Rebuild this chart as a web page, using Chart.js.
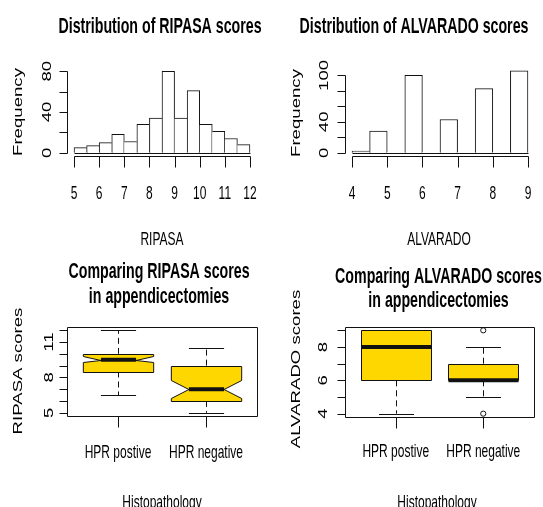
<!DOCTYPE html>
<html>
<head>
<meta charset="utf-8">
<script src="https://cdn.jsdelivr.net/npm/chart.js@4.4.1/dist/chart.umd.min.js"></script>
<style>
  html, body { margin: 0; background: #fff; }
  #wrap { position: relative; width: 543px; height: 507px; overflow: hidden; }
  canvas { position: absolute; left: 0; top: 0; }
</style>
</head>
<body>
<div id="wrap">
  <canvas id="ripasaHist" width="543" height="507"></canvas>
  <canvas id="alvaradoHist" width="543" height="507"></canvas>
  <canvas id="ripasaBox" width="543" height="507"></canvas>
  <canvas id="alvaradoBox" width="543" height="507"></canvas>
</div>
<script>
// --- histogram data ---
const ripasaBreaks = [5, 5.5, 6, 6.5, 7, 7.5, 8, 8.5, 9, 9.5, 10, 10.5, 11, 11.5, 12];
const ripasaFreq = [5, 7, 10, 18, 11, 28, 34, 80, 34, 61, 28, 21, 14, 8];
const ripasaXTicks = [5, 6, 7, 8, 9, 10, 11, 12];
const ripasaYTicks = [0, 20, 40, 60, 80];
const ripasaYLabels = [0, 40, 80];

const alvaradoBreaks = [4, 4.5, 5, 5.5, 6, 6.5, 7, 7.5, 8, 8.5, 9];
const alvaradoFreq = [2, 28, 0, 100, 0, 43, 0, 83, 0, 106];
const alvaradoXTicks = [4, 5, 6, 7, 8, 9];
const alvaradoYTicks = [0, 20, 40, 60, 80, 100];
const alvaradoYLabels = [0, 40, 100];

// --- boxplot data: [lower whisker, Q1, median, Q3, upper whisker] ---
const groups = ['HPR postive', 'HPR negative'];
const ripasaStats = [[6.5, 8.5, 9.5, 10, 12], [5, 6, 7, 9, 10.5]];
const ripasaNotch = [[9.3, 9.8], [6.25, 7.75]];
const ripasaBoxYTicks = [5, 6, 7, 8, 9, 10, 11, 12];
const ripasaBoxYLabels = [5, 8, 11];

const alvaradoStats = [[4, 6, 8, 9, 9], [5, 6, 6, 7, 8]];
const alvaradoOutliers = [[], [9, 4]];
const alvaradoBoxYTicks = [4, 5, 6, 7, 8, 9];
const alvaradoBoxYLabels = [4, 6, 8];

// the picture is stretched vertically, so text is too
const STRETCH = 1.55;
const FONT = '"Liberation Sans", Arial, sans-serif';
const INK = '#111';

function txt(ctx, s, x, y, size, opts = {}) {
    ctx.save();
    ctx.translate(x, y);
    ctx.scale(1, STRETCH);
    if (opts.rotate) ctx.rotate(-Math.PI / 2);
    ctx.font = (opts.bold ? 'bold ' : '') + size + 'px ' + FONT;
    ctx.fillStyle = '#000';
    ctx.textAlign = 'center';
    ctx.textBaseline = 'alphabetic';
    ctx.fillText(s, 0, 0);
    ctx.restore();
}

const crisp = v => Math.round(v) + 0.5;

// R style axes, titles and labels
function rAxes(cfg) {
    return {
        id: 'rAxes',
        afterDraw(chart) {
            const { ctx, chartArea: a, scales: { x, y } } = chart;
            const px = v => crisp(x.getPixelForValue(v));
            const py = v => crisp(y.getPixelForValue(v));
            const bottom = crisp(a.bottom), left = crisp(a.left);
            ctx.save();
            ctx.strokeStyle = INK;
            ctx.lineWidth = 1;
            ctx.beginPath();
            if (cfg.frame) {
                ctx.rect(left, crisp(a.top), crisp(a.right) - left, bottom - crisp(a.top));
            } else {
                ctx.moveTo(px(cfg.xTicks[0]), bottom);
                ctx.lineTo(px(cfg.xTicks[cfg.xTicks.length - 1]), bottom);
                ctx.moveTo(left, py(cfg.yTicks[0]));
                ctx.lineTo(left, py(cfg.yTicks[cfg.yTicks.length - 1]));
            }
            if (cfg.breaks) {
                // bottom edge of the histogram cells, empty ones included
                ctx.moveTo(px(cfg.breaks[0]), py(0));
                ctx.lineTo(px(cfg.breaks[cfg.breaks.length - 1]), py(0));
            }
            cfg.xTicks.forEach(v => { ctx.moveTo(px(v), bottom); ctx.lineTo(px(v), bottom + 11); });
            cfg.yTicks.forEach(v => { ctx.moveTo(left, py(v)); ctx.lineTo(left - 8, py(v)); });
            ctx.stroke();
            ctx.restore();

            cfg.xTicks.forEach((v, i) =>
                txt(ctx, cfg.xLabels ? cfg.xLabels[i] : String(v), x.getPixelForValue(v), cfg.xLabelY, 12));
            cfg.yLabels.forEach(v =>
                txt(ctx, String(v), a.left - cfg.yLabelGap, y.getPixelForValue(v), 12, { rotate: true }));
            cfg.title.forEach((t, i) => txt(ctx, t, cfg.titleX, cfg.titleY[i], 14.2, { bold: true }));
            txt(ctx, cfg.xTitle, cfg.xTitleX, cfg.xTitleY, 12);
            txt(ctx, cfg.yTitle, a.left - 45.5, cfg.yTitleY, 12, { rotate: true });
        }
    };
}

// boxes, whiskers and medians (R bxp look)
function rBoxes(stats, notch) {
    return {
        id: 'rBoxes',
        beforeDatasetsDraw(chart) {
            const { ctx, scales: { x, y } } = chart;
            const Y = v => y.getPixelForValue(v);
            const seg = (x1, y1, x2, y2) => { ctx.beginPath(); ctx.moveTo(x1, y1); ctx.lineTo(x2, y2); ctx.stroke(); };
            stats.forEach((s, i) => {
                const [lo, q1, med, q3, hi] = s;
                const cx = crisp(x.getPixelForValue(i + 1));
                const hw = x.getPixelForValue(i + 1.4) - x.getPixelForValue(i + 1);
                ctx.save();
                ctx.strokeStyle = INK;
                ctx.lineWidth = 1;
                ctx.setLineDash([6, 4]);
                seg(cx, Y(q3), cx, Y(hi));
                seg(cx, Y(q1), cx, Y(lo));
                ctx.setLineDash([]);
                seg(cx - hw / 2, crisp(Y(hi)), cx + hw / 2, crisp(Y(hi)));
                seg(cx - hw / 2, crisp(Y(lo)), cx + hw / 2, crisp(Y(lo)));

                let pts = [[-1, q1], [1, q1], [1, q3], [-1, q3]];
                if (notch) {
                    const [nl, nh] = notch[i];
                    pts = [[-1, q1], [1, q1], [1, nl], [0.5, med], [1, nh], [1, q3],
                           [-1, q3], [-1, nh], [-0.5, med], [-1, nl]];
                }
                ctx.beginPath();
                pts.forEach(([f, v], k) => {
                    const X = cx + f * hw, YY = crisp(Y(v));
                    k ? ctx.lineTo(X, YY) : ctx.moveTo(X, YY);
                });
                ctx.closePath();
                ctx.fillStyle = '#FFD700';
                ctx.fill();
                ctx.stroke();

                const mw = notch ? hw / 2 : hw;
                ctx.lineWidth = 4;
                seg(cx - mw, Y(med), cx + mw, Y(med));
                ctx.restore();
            });
        }
    };
}

const baseOptions = (padding) => ({
    responsive: false,
    animation: false,
    events: [],
    layout: { padding },
    plugins: { legend: { display: false }, tooltip: { enabled: false } }
});

function histogram(id, breaks, freq, xr, yr, padding, axesCfg) {
    const mids = freq.map((f, i) => ({ x: (breaks[i] + breaks[i + 1]) / 2, y: f }));
    const n = freq.length;
    const opts = baseOptions(padding);
    opts.scales = {
        x: { type: 'linear', min: xr[0], max: xr[1], display: false, offset: false,
             afterBuildTicks: s => { s.ticks = breaks.map(v => ({ value: v })); } },
        y: { min: yr[0], max: yr[1], display: false }
    };
    new Chart(document.getElementById(id), {
        type: 'bar',
        data: {
            datasets: [{
                data: mids,
                backgroundColor: '#fff',
                borderColor: INK,
                borderSkipped: false,
                borderWidth: c => {
                    const i = c.dataIndex;
                    return {
                        top: 1, bottom: 0,
                        left: (i === 0 || freq[i] >= freq[i - 1]) ? 1 : 0,
                        right: (i === n - 1 || freq[i] > freq[i + 1]) ? 1 : 0
                    };
                },
                barPercentage: 1,
                categoryPercentage: 1
            }]
        },
        options: opts,
        plugins: [rAxes(Object.assign({ breaks }, axesCfg))]
    });
}

function boxplot(id, stats, notch, outliers, yr, padding, axesCfg) {
    const opts = baseOptions(padding);
    opts.scales = {
        x: { type: 'linear', min: 0.42, max: 2.58, display: false },
        y: { min: yr[0], max: yr[1], display: false }
    };
    new Chart(document.getElementById(id), {
        type: 'scatter',
        data: {
            datasets: [{
                data: outliers.flatMap((o, i) => o.map(v => ({ x: i + 1, y: v }))),
                pointRadius: 2.6,
                pointBorderWidth: 1,
                pointBorderColor: INK,
                pointBackgroundColor: 'rgba(0,0,0,0)'
            }]
        },
        options: opts,
        plugins: [rBoxes(stats, notch), rAxes(axesCfg)]
    });
}

histogram('ripasaHist', ripasaBreaks, ripasaFreq, [4.72, 12.28], [-3.2, 83.2],
    { left: 67, right: 286, top: 68, bottom: 351 },
    { xTicks: ripasaXTicks, yTicks: ripasaYTicks, yLabels: ripasaYLabels,
      xLabelY: 199, yLabelGap: 16,
      title: ['Distribution of RIPASA scores'], titleX: 160, titleY: [32.5],
      xTitle: 'RIPASA', xTitleX: 162, xTitleY: 245,
      yTitle: 'Frequency', yTitleY: 112 });

histogram('alvaradoHist', alvaradoBreaks, alvaradoFreq, [3.8, 9.2], [-4.24, 110.24],
    { left: 345, right: 8, top: 67.5, bottom: 351 },
    { xTicks: alvaradoXTicks, yTicks: alvaradoYTicks, yLabels: alvaradoYLabels,
      xLabelY: 198.5, yLabelGap: 17,
      title: ['Distribution of ALVARADO scores'], titleX: 414, titleY: [32.5],
      xTitle: 'ALVARADO', xTitleX: 439, xTitleY: 245,
      yTitle: 'Frequency', yTitleY: 113 });

boxplot('ripasaBox', ripasaStats, ripasaNotch, [[], []], [4.72, 12.28],
    { left: 67, right: 286, top: 327, bottom: 91 },
    { frame: true, xTicks: [1, 2], xLabels: groups, yTicks: ripasaBoxYTicks, yLabels: ripasaBoxYLabels,
      xLabelY: 458, yLabelGap: 14,
      title: ['Comparing RIPASA scores', 'in appendicectomies'], titleX: 159, titleY: [278, 302.5],
      xTitle: 'Histopathology', xTitleX: 162, xTitleY: 507.5,
      yTitle: 'RIPASA scores', yTitleY: 371 });

boxplot('alvaradoBox', alvaradoStats, null, alvaradoOutliers, [3.8, 9.2],
    { left: 345, right: 9, top: 327, bottom: 90 },
    { frame: true, xTicks: [1, 2], xLabels: groups, yTicks: alvaradoBoxYTicks, yLabels: alvaradoBoxYLabels,
      xLabelY: 456.7, yLabelGap: 18,
      title: ['Comparing ALVARADO scores', 'in appendicectomies'], titleX: 438.5, titleY: [283.3, 306.7],
      xTitle: 'Histopathology', xTitleX: 437, xTitleY: 507.5,
      yTitle: 'ALVARADO scores', yTitleY: 369 });
</script>
</body>
</html>
